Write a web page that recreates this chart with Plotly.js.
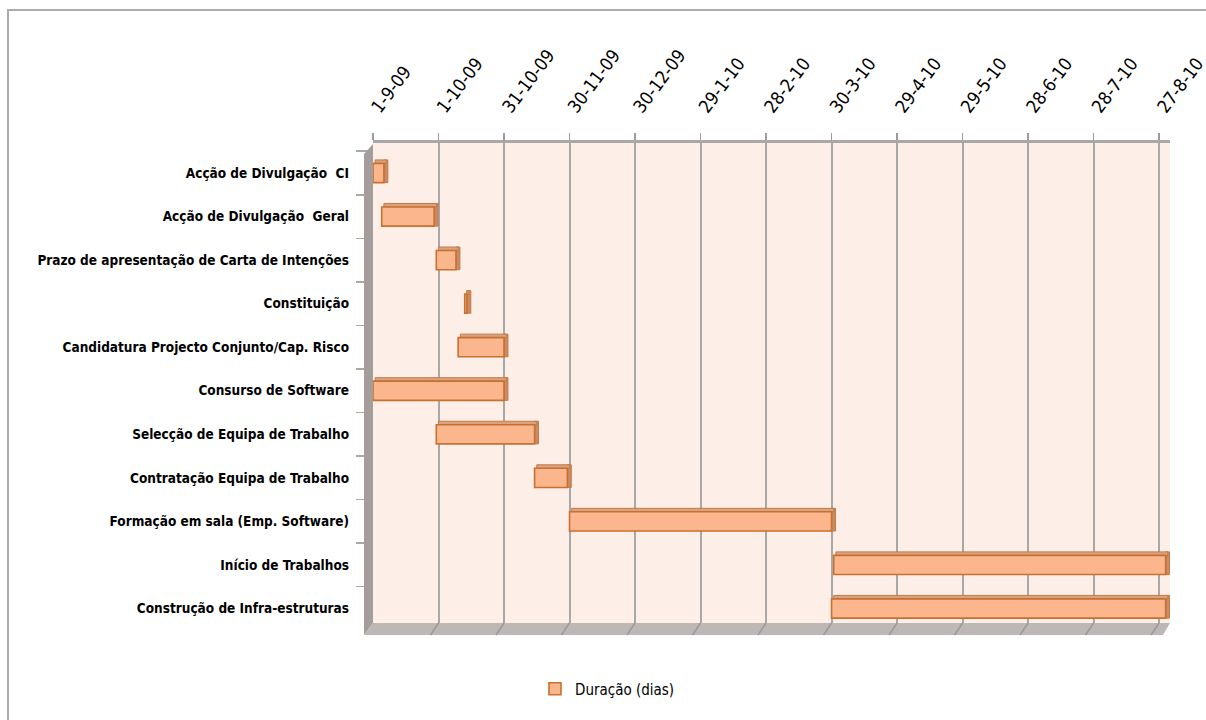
<!DOCTYPE html>
<html>
<head>
<meta charset="utf-8">
<script src="https://cdn.plot.ly/plotly-3.0.1.min.js"></script>
<style>
  html, body { margin: 0; padding: 0; background: #ffffff; }
  #chart { width: 1206px; height: 720px; }
</style>
</head>
<body>
<div id="chart"></div>
<script>
// ---- data ----
const tasks = [
  "Acção de Divulgação  CI",
  "Acção de Divulgação  Geral",
  "Prazo de apresentação de Carta de Intenções",
  "Constituição",
  "Candidatura Projecto Conjunto/Cap. Risco",
  "Consurso de Software",
  "Selecção de Equipa de Trabalho",
  "Contratação Equipa de Trabalho",
  "Formação em sala (Emp. Software)",
  "Início de Trabalhos",
  "Construção de Infra-estruturas"
];
const startDates = [
  "2009-09-01", "2009-09-05", "2009-09-30", "2009-10-13", "2009-10-10",
  "2009-09-01", "2009-09-30", "2009-11-14", "2009-11-30", "2010-03-31", "2010-03-30"
];
const durationDays = [5, 24, 9, 1, 21, 60, 45, 15, 120, 152, 153];
const tickDates = [
  "2009-09-01", "2009-10-01", "2009-10-31", "2009-11-30", "2009-12-30", "2010-01-29",
  "2010-02-28", "2010-03-30", "2010-04-29", "2010-05-29", "2010-06-28", "2010-07-28", "2010-08-27"
];
const tickLabels = [
  "1-9-09", "1-10-09", "31-10-09", "30-11-09", "30-12-09", "29-1-10",
  "28-2-10", "30-3-10", "29-4-10", "29-5-10", "28-6-10", "28-7-10", "27-8-10"
];
const seriesName = "Duração (dias)";
const xRange = ["2009-09-01", "2010-09-01"];

// ---- helpers ----
const DAY = 86400000;
function addDays(dstr, n) {
  const d = new Date(dstr + "T00:00:00Z");
  return new Date(d.getTime() + n * DAY).toISOString().slice(0, 10);
}
const durMs = durationDays.map(d => d * DAY);

const FONT = "'Liberation Sans Narrow', 'Arial Narrow', 'DejaVu Sans Condensed', sans-serif";
const depthDays = 1.8;

// top face (3D look)
const topFace = {
  type: "bar", orientation: "h",
  y: tasks, x: durMs, base: startDates.map(s => addDays(s, 1)),
  offset: -0.30, width: 0.085,
  marker: { color: "#d9a283", line: { color: "#c47a45", width: 1 } },
  showlegend: false, hoverinfo: "skip"
};
// right side face
const sideFace = {
  type: "bar", orientation: "h",
  y: tasks, x: tasks.map(() => depthDays * DAY),
  base: startDates.map((s, i) => addDays(s, durationDays[i])),
  offset: -0.30, width: 0.52,
  marker: { color: "#c98a66", line: { color: "#c47a45", width: 1 } },
  showlegend: false, hoverinfo: "skip"
};
// front face
const front = {
  type: "bar", orientation: "h", name: seriesName,
  y: tasks, x: durMs, base: startDates,
  offset: -0.22, width: 0.44,
  marker: { color: "#fbb68d", line: { color: "#c8702e", width: 1.6 } },
  showlegend: true
};

// geometry helpers in paper coordinates
const L = 373, R = 1170, T = 143, B = 623;
const px = v => (v - L) / (R - L);
const py = v => (B - v) / (B - T);
const msPerPx = (new Date(xRange[1]) - new Date(xRange[0])) / (R - L);

const shapes = [];
// outer frame
shapes.push({ type: "rect", xref: "paper", yref: "paper",
  x0: px(8), x1: px(1260), y0: py(780), y1: py(10),
  line: { color: "#ababab", width: 2 }, fillcolor: "rgba(0,0,0,0)", layer: "below" });
// left wall
shapes.push({ type: "path", xref: "paper", yref: "paper",
  path: `M ${px(364)} ${py(154)} L ${px(373)} ${py(144)} L ${px(373)} ${py(623)} L ${px(364)} ${py(635)} Z`,
  fillcolor: "#a39e9c", line: { width: 0 }, layer: "above" });
// floor
shapes.push({ type: "path", xref: "paper", yref: "paper",
  path: `M ${px(373)} ${py(623)} L ${px(1170)} ${py(623)} L ${px(1163)} ${py(635)} L ${px(364)} ${py(635)} Z`,
  fillcolor: "#bdb8b6", line: { width: 0 }, layer: "above" });
// slanted floor ticks at each date tick
tickDates.forEach(d => {
  const t = new Date(d + "T00:00:00Z").getTime();
  shapes.push({ type: "line", xref: "x", yref: "paper",
    x0: new Date(t).toISOString(), y0: 0,
    x1: new Date(t - 8 * msPerPx).toISOString(), y1: py(635),
    line: { color: "#9a9a9a", width: 1.5 }, layer: "above" });
});

const layout = {
  width: 1206, height: 720,
  margin: { l: L, r: 1206 - R, t: T, b: 720 - B, pad: 0 },
  paper_bgcolor: "#ffffff",
  plot_bgcolor: "#fdeee7",
  barmode: "overlay",
  font: { family: FONT, color: "#000000", size: 14 },
  xaxis: {
    type: "date", side: "top", range: xRange,
    tickmode: "array", tickvals: tickDates, ticktext: tickLabels,
    tickangle: -53, tickfont: { family: FONT, size: 18, color: "#000" },
    ticks: "outside", ticklen: 7, tickcolor: "#9c9c9c", tickwidth: 1.5,
    ticklabelstandoff: 8, ticklabeloverflow: "allow",
    showgrid: true, gridcolor: "#a8a8a8", gridwidth: 2,
    showline: true, linecolor: "#a8a8a8", linewidth: 3,
    zeroline: false, fixedrange: true
  },
  yaxis: {
    type: "category", categoryorder: "array", categoryarray: tasks,
    range: [10.333, -0.689],
    tickfont: { family: FONT, size: 13.5, color: "#000", weight: "bold" },
    ticks: "outside", tickson: "boundaries", ticklen: 16, tickcolor: "#a8a8a8", tickwidth: 1.5,
    ticklabelstandoff: 23,
    showgrid: false, showline: false, zeroline: false, fixedrange: true
  },
  legend: {
    orientation: "h", x: px(535), xanchor: "left", y: py(689), yanchor: "middle",
    font: { family: FONT, size: 15, color: "#000" }, bgcolor: "rgba(0,0,0,0)"
  },
  shapes: shapes
};

Plotly.newPlot("chart", [sideFace, topFace, front], layout, { staticPlot: true, displayModeBar: false });
</script>
</body>
</html>
